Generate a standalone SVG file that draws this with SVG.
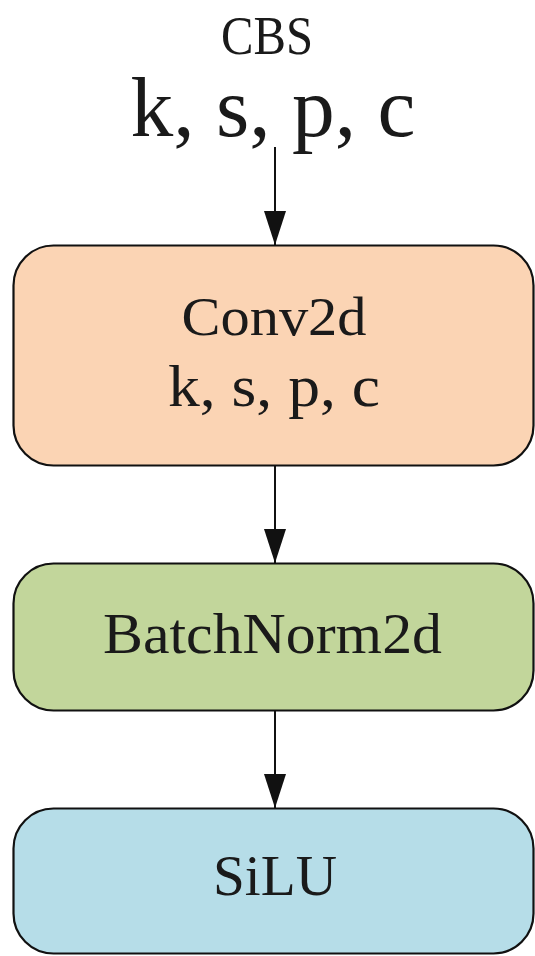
<svg xmlns="http://www.w3.org/2000/svg" width="535" height="956" viewBox="0 0 535 956">
  <style>
    .box { stroke: #111; stroke-width: 2.2; }
    .serif { font-family: "Liberation Serif", "Times New Roman", serif; fill: #1a1a1a; text-anchor: middle; }
    .edge { stroke: #111; stroke-width: 2; fill: none; marker-end: url(#arrow); }
  </style>
  <defs>
    <marker id="arrow" markerUnits="userSpaceOnUse" markerWidth="34" markerHeight="22" refX="34" refY="11" orient="auto">
      <path d="M0,0 L34,11 L0,22 z" fill="#111"/>
    </marker>
  </defs>
  <rect width="535" height="956" fill="#ffffff"/>

  <g id="input-label">
    <text class="serif" x="267" y="54" font-size="54" textLength="92" lengthAdjust="spacingAndGlyphs">CBS</text>
    <text class="serif" x="273" y="136" font-size="84" textLength="285" lengthAdjust="spacingAndGlyphs">k, s, p, c</text>
  </g>

  <g id="connectors">
    <line class="edge" x1="275" y1="147" x2="275" y2="245"/>
    <line class="edge" x1="275" y1="466" x2="275" y2="563"/>
    <line class="edge" x1="275" y1="711" x2="275" y2="808"/>
  </g>

  <g id="conv2d">
    <rect class="box" x="13.5" y="245.5" width="520" height="220" rx="40" ry="40" fill="#FBD4B4"/>
    <text class="serif" x="274" y="335" font-size="55" textLength="185" lengthAdjust="spacingAndGlyphs">Conv2d</text>
    <text class="serif" x="274" y="406" font-size="60" textLength="212" lengthAdjust="spacingAndGlyphs">k, s, p, c</text>
  </g>

  <g id="batchnorm2d">
    <rect class="box" x="13.5" y="563.5" width="520" height="147" rx="40" ry="40" fill="#C2D69B"/>
    <text class="serif" x="272.5" y="653" font-size="58" textLength="339" lengthAdjust="spacingAndGlyphs">BatchNorm2d</text>
  </g>

  <g id="silu">
    <rect class="box" x="13.5" y="808.5" width="520" height="145" rx="40" ry="40" fill="#B6DDE8"/>
    <text class="serif" x="275" y="895" font-size="58" textLength="124" lengthAdjust="spacingAndGlyphs">SiLU</text>
  </g>
</svg>
